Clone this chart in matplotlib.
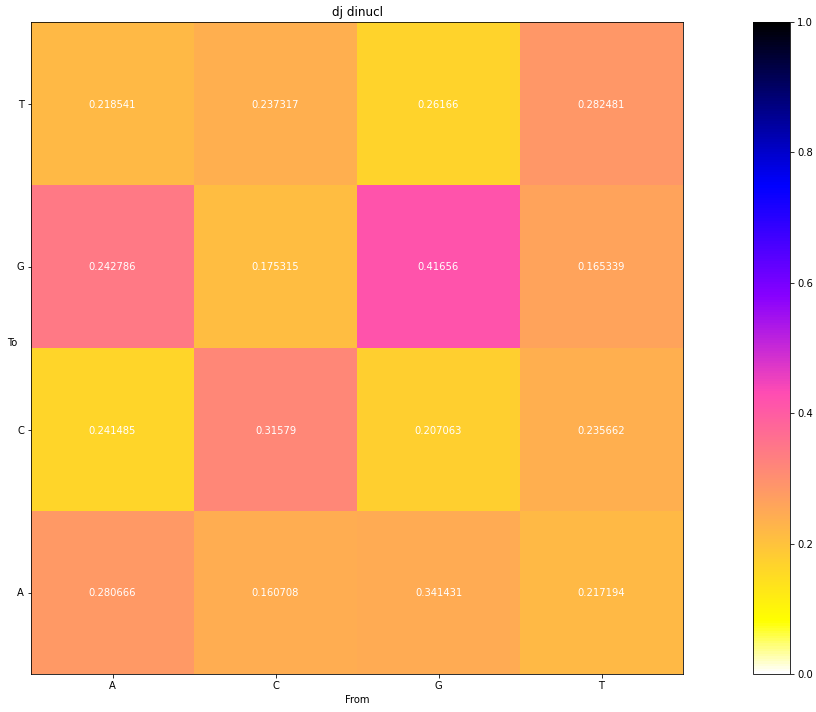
import matplotlib
matplotlib.use('Agg')
import matplotlib.pyplot as plt
import numpy as np

# Labels (bottom to top on y, left to right on x)
labels = ['A', 'C', 'G', 'T']

# Annotated values, rows = "To" (A, C, G, T), cols = "From" (A, C, G, T)
row_A = [0.280666, 0.160708, 0.341431, 0.217194]
row_C = [0.241485, 0.31579, 0.207063, 0.235662]
row_G = [0.242786, 0.175315, 0.41656, 0.165339]
row_T = [0.218541, 0.237317, 0.26166, 0.282481]

data = np.array([row_A, row_C, row_G, row_T])

dpi = 72
fig = plt.figure(figsize=(816 / dpi, 712 / dpi), dpi=dpi)
ax = fig.add_axes([31 / 816, 38 / 712, 652 / 816, 652 / 712])
cax = fig.add_axes([753 / 816, 38 / 712, 37 / 816, 652 / 712])

# image is drawn from the transposed matrix, text from the matrix itself
im = ax.imshow(data.T, cmap='gnuplot2_r', vmin=0, vmax=1, origin='lower',
               interpolation='nearest', aspect='auto')
for i in range(len(labels)):
    for j in range(len(labels)):
        ax.text(j, i, '%g' % data[i][j], ha='center', va='center_baseline', color='w')

ax.set_xticks(range(len(labels)))
ax.set_xticklabels(labels)
ax.set_yticks(range(len(labels)))
ax.set_yticklabels(labels)
ax.set_xlabel('From')
ax.set_ylabel('To', rotation=0)
ax.set_title('dj dinucl')

fig.colorbar(im, cax=cax)

fig.savefig('out.png', dpi=dpi)
